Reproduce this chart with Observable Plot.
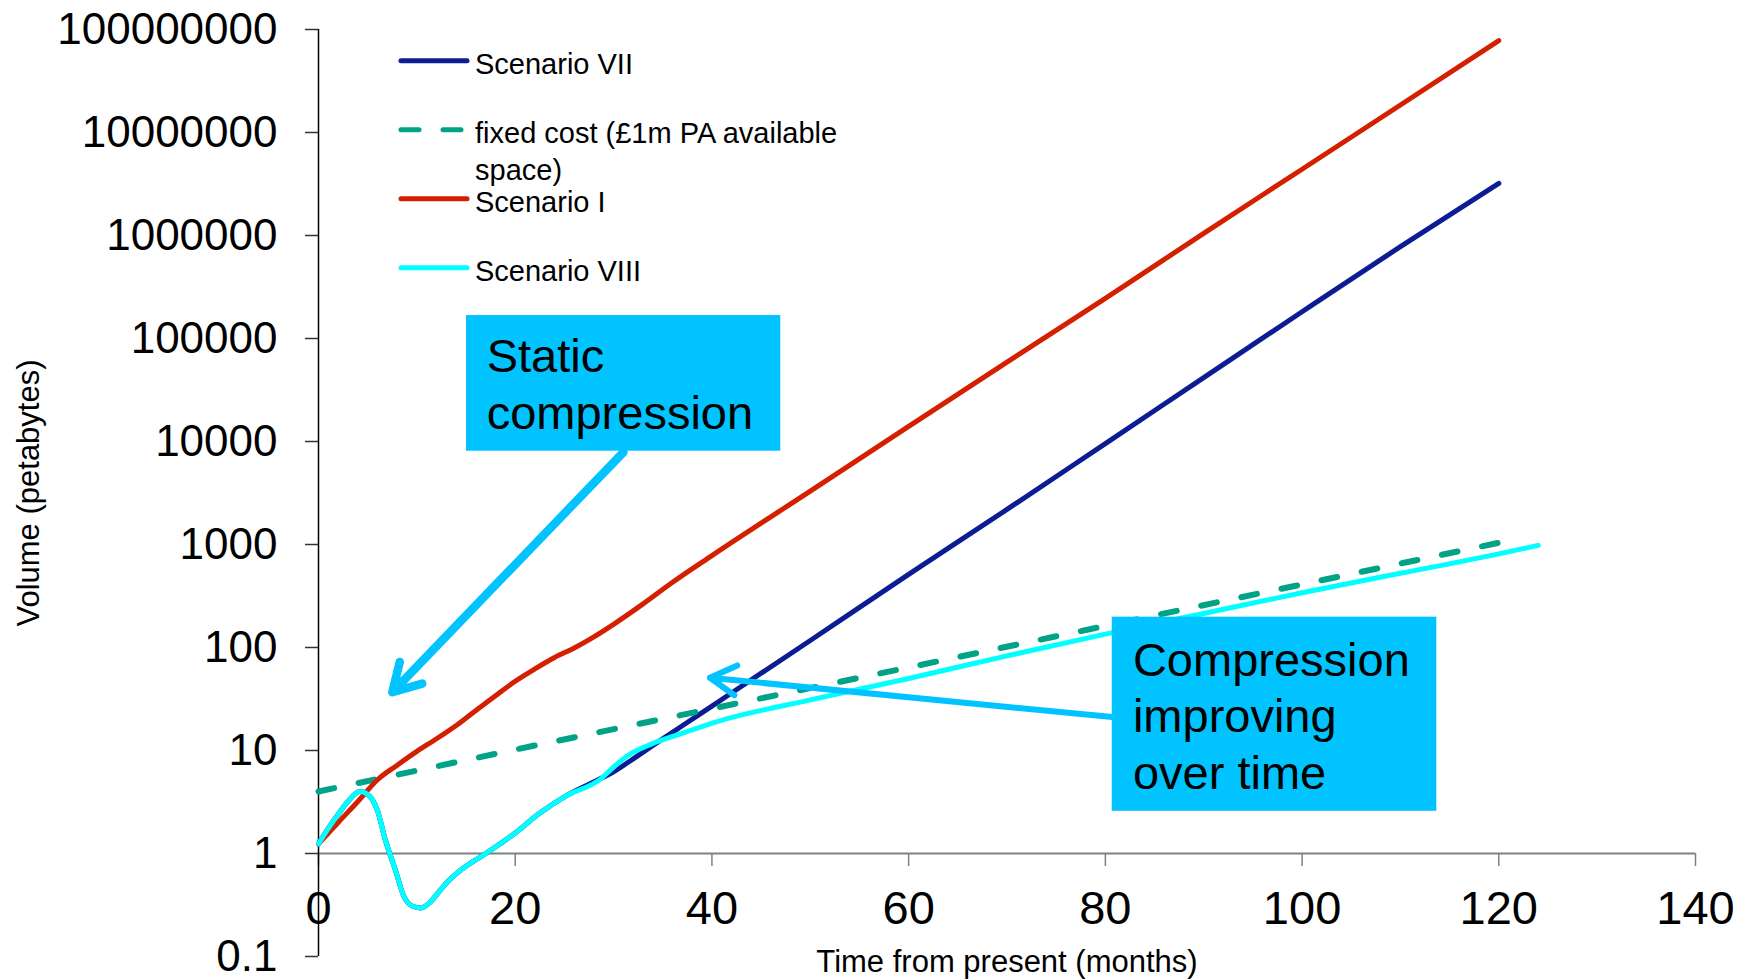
<!DOCTYPE html>
<html><head><meta charset="utf-8">
<script src="https://cdn.jsdelivr.net/npm/d3@7"></script>
<script src="https://cdn.jsdelivr.net/npm/@observablehq/plot@0.6"></script>
<style>
html,body{margin:0;padding:0;background:#fff;}
#wrap{position:relative;width:1748px;height:980px;overflow:hidden;font-family:"Liberation Sans",Arial,sans-serif;}
#legend{position:absolute;left:0;top:0;pointer-events:none;}
</style></head><body><div id="wrap"></div>
<script>
// ---- data ----
const xTicks = [0, 20, 40, 60, 80, 100, 120, 140];
const yTicks = [0.1, 1, 10, 100, 1000, 10000, 100000, 1000000, 10000000, 100000000];

// Scenario I (red)
const monthsI = [0, 2, 4, 6, 8, 10, 12, 14, 16, 18, 20, 22, 24, 26, 28, 30, 33, 36, 40, 50, 60, 70, 80, 90, 100, 110, 120];
const scenarioI = [1.24, 2.0, 3.2, 5.2, 7.2, 9.8, 13, 17.5, 24.5, 34, 47, 62, 80, 99, 127, 168, 265, 430, 780, 3300, 14000, 59000, 245000, 1050000, 4400000, 18500000, 78000000];

// Scenario VII (dark blue)
const monthsVII = [0, 1, 2, 3, 4.2, 5.2, 6, 6.8, 7.8, 8.7, 9.5, 10.4, 11.4, 12.2, 13.2, 14.2, 17, 20, 22.4, 25, 28.8, 30, 32, 34, 36.8, 40, 50, 60, 70, 80, 90, 100, 110, 120];
const scenarioVII = [1.24, 1.75, 2.4, 3.2, 4.0, 3.6, 2.6, 1.35, 0.70, 0.38, 0.31, 0.295, 0.34, 0.42, 0.54, 0.66, 1.0, 1.58, 2.43, 3.55, 5.4, 6.2, 8.3, 11.2, 16.9, 27, 117, 513, 2190, 9550, 41700, 182000, 780000, 3200000];

// Scenario VIII (cyan)
const monthsVIII = [0, 1, 2, 3, 4.2, 5.2, 6, 6.8, 7.8, 8.7, 9.5, 10.4, 11.4, 12.2, 13.2, 14.2, 17, 20, 22.4, 25, 28.8, 30, 31.5, 33.9, 36.8, 40.7, 50, 60, 70, 80, 90, 100, 110, 120, 124];
const scenarioVIII = [1.24, 1.75, 2.4, 3.2, 4.0, 3.6, 2.6, 1.35, 0.70, 0.38, 0.31, 0.295, 0.34, 0.42, 0.54, 0.66, 1.0, 1.58, 2.43, 3.55, 5.4, 6.9, 9.0, 11.6, 14.5, 19.3, 31, 50, 83, 135, 214, 340, 525, 810, 980];

// fixed cost (£1m PA available space) (dashed green)
const monthsFixed = [0, 20, 40, 60, 80, 100, 120];
const fixedCost = [4.0, 10.2, 25.5, 64, 162, 410, 1040];

// annotations (data units: months, petabytes)
const boxLabels = ["Static\ncompression", "Compression\nimproving\nover time"];
const boxX1 = [15.05, 80.7];
const boxX2 = [47.0, 113.7];
const boxYLow = [8050, 2.57];
const boxYHigh = [167000, 197];
const boxTextX = [17.1, 82.8];
const boxTextY = [13300, 4.25];
const arrowFromX = [31.0, 80.7];
const arrowFromY = [7870, 21.1];
const arrowToX = [7.5, 39.8];
const arrowToY = [36.8, 50.8];

const legendLabels = ["Scenario VII", "fixed cost (£1m PA available\nspace)", "Scenario I", "Scenario VIII"];
const legendColors = ["#0B1C94", "#00A386", "#D42000", "#00FFFF"];
const legendDashed = [false, true, false, false];

// ---- tables ----
const rows = (ms, vs) => ms.map((m, i) => ({month: m, volume: vs[i]}));
const dataI = rows(monthsI, scenarioI);
const dataVII = rows(monthsVII, scenarioVII);
const dataVIII = rows(monthsVIII, scenarioVIII);
const dataFixed = rows(monthsFixed, fixedCost);
const boxes = boxLabels.map((t, i) => ({text: t, x1: boxX1[i], x2: boxX2[i], y1: boxYLow[i], y2: boxYHigh[i], tx: boxTextX[i], ty: boxTextY[i]}));
const arrows = arrowFromX.map((x, i) => ({x1: x, y1: arrowFromY[i], x2: arrowToX[i], y2: arrowToY[i]}));

const annoColor = "#00C3FF";
const W = 1748, H = 980, mB = 24;

const chart = Plot.plot({
  width: W, height: H,
  marginLeft: 318, marginRight: 53, marginTop: 29, marginBottom: mB,
  style: {fontFamily: '"Liberation Sans", Arial, sans-serif', background: "white", color: "black"},
  x: {domain: [0, 140]},
  y: {type: "log", domain: [0.1, 100000000]},
  marks: [
    Plot.axisY(yTicks, {tickSize: 13, tickPadding: 28, fontSize: 44, tickFormat: d => String(d), label: null, stroke: "#333", strokeWidth: 1.5}),
    Plot.axisX(xTicks, {tickSize: 13, tickPadding: 24, fontSize: 47, label: null, stroke: "#808080", strokeWidth: 1.5}),
    Plot.ruleY([1], {stroke: "#808080", strokeWidth: 2}),
    Plot.ruleX([0], {stroke: "black", strokeWidth: 1.5}),
    Plot.text(["Volume (petabytes)"], {frameAnchor: "left", dx: -289, rotate: -90, fontSize: 31, textAnchor: "middle", lineAnchor: "middle"}),
    Plot.text(["Time from present (months)"], {frameAnchor: "bottom", dy: 6, fontSize: 31, textAnchor: "middle", lineAnchor: "middle"}),
    Plot.line(dataVII, {x: "month", y: "volume", stroke: legendColors[0], strokeWidth: 5, curve: "monotone-x"}),
    Plot.line(dataFixed, {x: "month", y: "volume", stroke: legendColors[1], strokeWidth: 6, strokeDasharray: "16,25", strokeLinecap: "round"}),
    Plot.line(dataI, {x: "month", y: "volume", stroke: legendColors[2], strokeWidth: 5, curve: "monotone-x"}),
    Plot.line(dataVIII, {x: "month", y: "volume", stroke: legendColors[3], strokeWidth: 5, curve: "monotone-x"}),
    Plot.rect(boxes, {x1: "x1", x2: "x2", y1: "y1", y2: "y2", fill: annoColor}),
    Plot.text(boxes, {x: "tx", y: "ty", text: "text", textAnchor: "start", lineAnchor: "bottom", lineHeight: 1.2, fontSize: 47, fill: "black"}),
    Plot.arrow(arrows.slice(0, 1), {x1: "x1", y1: "y1", x2: "x2", y2: "y2", stroke: annoColor, strokeWidth: 8.5, headLength: 5.5, headAngle: 60}),
    Plot.arrow(arrows.slice(1), {x1: "x1", y1: "y1", x2: "x2", y2: "y2", stroke: annoColor, strokeWidth: 6, headLength: 7.5, headAngle: 60})
  ]
});

// move the x axis up so that it crosses the y axis at 1
const yScale = chart.scale("y");
const shift = yScale.apply(1) - (H - mB);
chart.querySelectorAll('[aria-label^="x-axis"]').forEach(g => {
  const t = g.getAttribute("transform") || "";
  g.setAttribute("transform", `translate(0,${shift}) ${t}`);
});

const wrap = document.getElementById("wrap");
wrap.appendChild(chart);

// legend overlay (inside the plot area, top-left)
const leg = d3.select(wrap).append("svg").attr("id", "legend").attr("width", W).attr("height", H)
  .style("font-family", '"Liberation Sans", Arial, sans-serif');
const rowY0 = 60.7, rowStep = 69;
legendLabels.forEach((lab, i) => {
  const y = rowY0 + i * rowStep;
  leg.append("line").attr("x1", 401).attr("x2", 467).attr("y1", y).attr("y2", y)
    .attr("stroke", legendColors[i]).attr("stroke-width", 5).attr("stroke-linecap", "round")
    .attr("stroke-dasharray", legendDashed[i] ? "18,24" : null);
  const t = leg.append("text").attr("x", 475).attr("y", y + 13.6).attr("font-size", 29).attr("fill", "black");
  lab.split("\n").forEach((s, k) => {
    t.append("tspan").attr("x", 475).attr("dy", k === 0 ? 0 : 36.6).text(s);
  });
});
</script></body></html>
